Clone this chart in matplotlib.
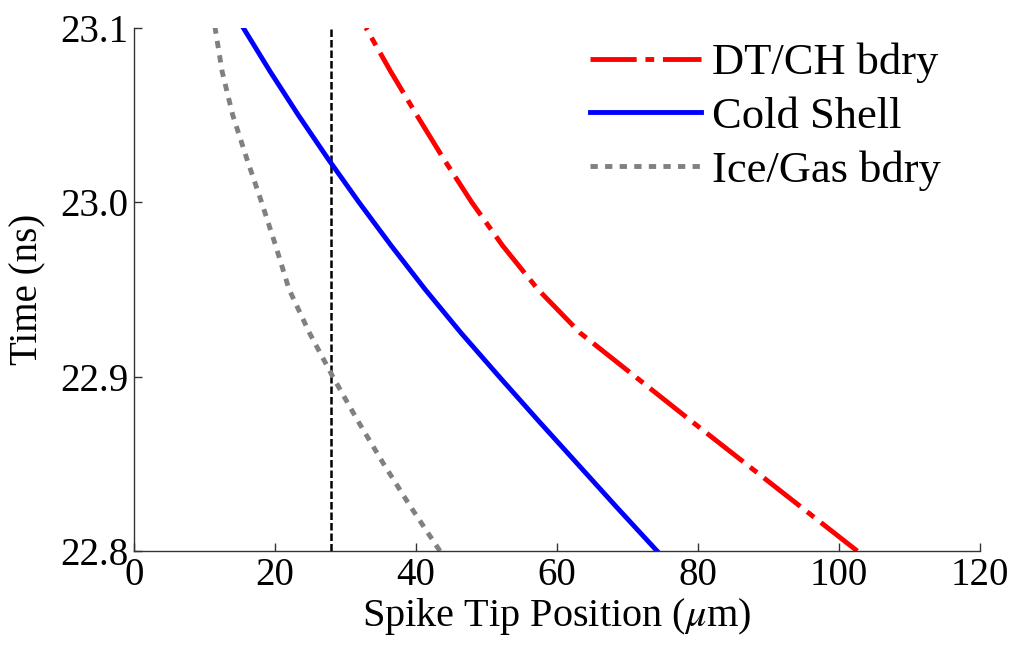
import matplotlib
matplotlib.use("Agg")
import matplotlib.pyplot as plt

plt.rcParams['font.family'] = ['Liberation Serif', 'DejaVu Serif']
plt.rcParams['mathtext.fontset'] = 'stix'

# Data (time in ns, position in micrometres)
time_ns = [22.8, 22.825, 22.85, 22.875, 22.9, 22.925, 22.95, 22.975,
           23.0, 23.025, 23.05, 23.075, 23.1]
dt_ch_bdry = [102.6, 94.7, 86.8, 78.9, 71.1, 63.3, 57.3, 52.3,
              47.9, 43.9, 40.1, 36.4, 32.9]
cold_shell = [74.2, 68.5, 62.9, 57.3, 51.8, 46.4, 41.3, 36.5,
              31.9, 27.5, 23.3, 19.3, 15.5]
ice_gas_bdry = [43.4, 39.3, 35.4, 31.7, 28.2, 24.9, 22.0, 20.1,
                18.1, 16.0, 14.0, 12.5, 11.5]
ref_position = 28.0

x_ticks = [0, 20, 40, 60, 80, 100, 120]
y_ticks = [22.8, 22.9, 23.0, 23.1]

fig = plt.figure(figsize=(10.15, 6.46), dpi=100)
ax = fig.add_axes([0.132, 0.147, 0.8335, 0.81])

ax.axvline(ref_position, color='black', lw=1.8, ls=(0, (3.0, 1.2)), zorder=1)
ax.plot(dt_ch_bdry, time_ns, color='#ff0000', lw=3.5,
        ls=(0, (9.5, 1.8, 1.8, 1.8)), dash_capstyle='butt', label='DT/CH bdry')
ax.plot(cold_shell, time_ns, color='#0000ff', lw=3.5, label='Cold Shell')
ax.plot(ice_gas_bdry, time_ns, color='#808080', lw=3.5,
        ls=(0, (1.5, 1.5)), dash_capstyle='butt', label='Ice/Gas bdry')

ax.set_xlim(0, 120)
ax.set_ylim(22.8, 23.1)
ax.set_xticks(x_ticks)
ax.set_yticks(y_ticks)
ax.set_xticklabels([str(v) for v in x_ticks])
ax.set_yticklabels([f"{v:.1f}" for v in y_ticks])

for s in ['top', 'right']:
    ax.spines[s].set_visible(False)
for s in ['left', 'bottom']:
    ax.spines[s].set_color('#333333')
    ax.spines[s].set_linewidth(1.0)

ax.tick_params(direction='in', length=6, width=1, colors='#333333',
               labelsize=28, labelcolor='black', pad=4)

ax.set_xlabel(r'Spike Tip Position ($\mu$m)', fontsize=29, labelpad=2)
ax.set_ylabel('Time (ns)', fontsize=28, labelpad=10)

ax.legend(loc='upper right', frameon=False, fontsize=32, handlelength=2.5,
          handletextpad=0.25, labelspacing=0.3, borderaxespad=0,
          bbox_to_anchor=(0.975, 1.005))

fig.savefig('out.png', dpi=100, facecolor='white')
